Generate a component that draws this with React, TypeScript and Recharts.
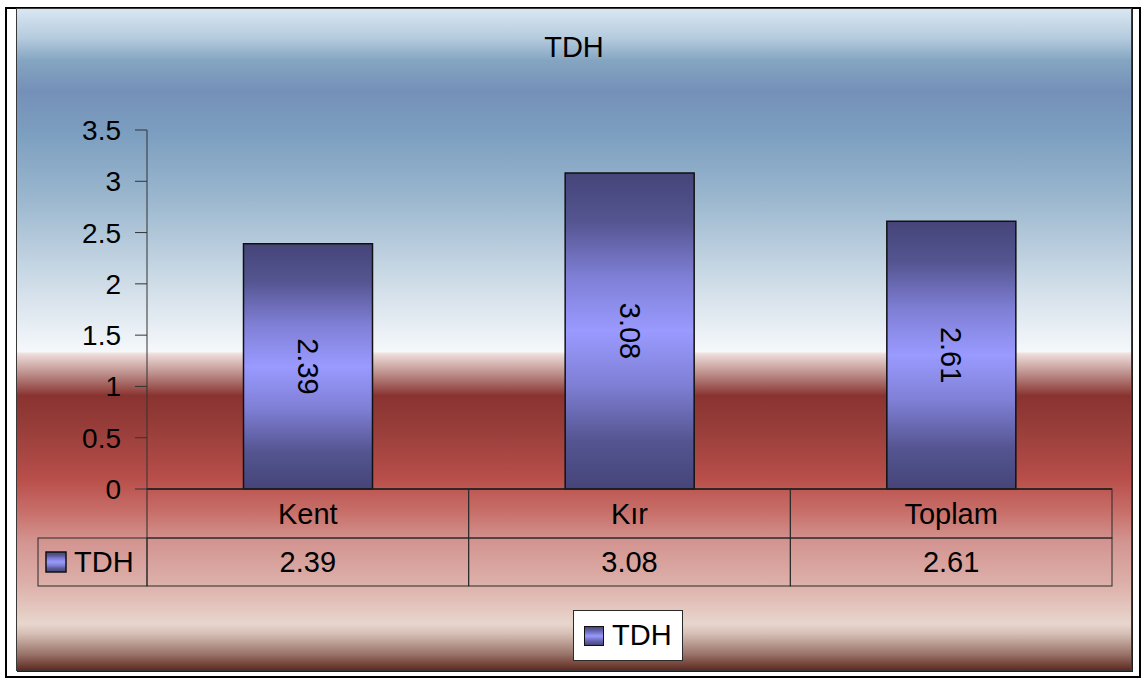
import { BarChart, Bar, XAxis, YAxis, Legend, LabelList } from 'recharts'

// ============================================
// Data
// ============================================

const categories = ['Kent', 'Kır', 'Toplam']
const tdhValues = [2.39, 3.08, 2.61]
const yTicks = [0, 0.5, 1, 1.5, 2, 2.5, 3, 3.5]
const seriesName = 'TDH'
const chartTitle = 'TDH'

const chartData = categories.map((name, i) => ({ name, value: tdhValues[i] }))

// ============================================
// Layout
// ============================================

const W = 1144
const H = 679
const PLOT_LEFT = 147
const PLOT_RIGHT = 1112
const BAND = (PLOT_RIGHT - PLOT_LEFT) / categories.length
const ROW1 = 49
const ROW2 = 48
const LABEL_COL_LEFT = 38
const FONT = '"Liberation Sans", Arial, sans-serif'
const FS = 29
const LINE = '#2a2a2a'

const panelGradient =
  'linear-gradient(to bottom, #d9e7f2 0%, #b4cadd 4.5%, #84a5c2 7.8%, #7590b8 12.4%, #7b9dbf 18.4%, #9cb8cf 29%, #cddbe7 41%, #f5f8fb 51.8%, #eedcda 52.2%, #b78682 55.5%, #893330 58.5%, #9a3f3b 64%, #b84e4a 71%, #c86e69 76%, #d39490 80.5%, #ddb0aa 87%, #e8d6cd 93%, #d6bfb6 94.5%, #9c766c 97.5%, #5e2a20 100%)'

const swatchGradient =
  'linear-gradient(to bottom, #46467a 0%, #6a6ab8 25%, #9999ff 50%, #6a6ab8 75%, #46467a 100%)'

// ============================================
// Pieces
// ============================================

function Swatch({ size }: { size: number }) {
  return (
    <div
      style={{
        width: size,
        height: size,
        boxSizing: 'border-box',
        border: '1.5px solid #111',
        background: swatchGradient,
      }}
    />
  )
}

function TableTick(props: any) {
  const { x, y, payload, index } = props
  const left = x - BAND / 2
  const value = tdhValues[payload.index ?? index]
  return (
    <g>
      <rect x={left} y={y} width={BAND} height={ROW1} fill="none" stroke={LINE} strokeWidth={1} />
      <rect x={left} y={y + ROW1} width={BAND} height={ROW2} fill="none" stroke={LINE} strokeWidth={1} />
      <text x={x} y={y + ROW1 / 2} textAnchor="middle" dominantBaseline="central" fontSize={FS} fill="#000">
        {payload.value}
      </text>
      <text x={x} y={y + ROW1 + ROW2 / 2} textAnchor="middle" dominantBaseline="central" fontSize={FS} fill="#000">
        {value.toFixed(2)}
      </text>
      {index === 0 && (
        <g>
          <rect
            x={LABEL_COL_LEFT}
            y={y + ROW1}
            width={left - LABEL_COL_LEFT}
            height={ROW2}
            fill="none"
            stroke={LINE}
            strokeWidth={1}
          />
          <rect
            x={LABEL_COL_LEFT + 8}
            y={y + ROW1 + 14}
            width={20}
            height={20}
            fill="url(#barFill)"
            stroke="#111"
            strokeWidth={1.5}
          />
          <text x={LABEL_COL_LEFT + 36} y={y + ROW1 + ROW2 / 2} dominantBaseline="central" fontSize={FS} fill="#000">
            {seriesName}
          </text>
        </g>
      )}
    </g>
  )
}

function BarValueLabel(props: any) {
  const { x, y, width, height, value } = props
  const cx = x + width / 2
  const cy = y + height / 2
  return (
    <text
      x={cx}
      y={cy}
      transform={`rotate(90 ${cx} ${cy})`}
      textAnchor="middle"
      dominantBaseline="central"
      fontSize={FS}
      fill="#000"
    >
      {Number(value).toFixed(2)}
    </text>
  )
}

function LegendBox() {
  return (
    <div
      style={{
        width: 110,
        height: 51,
        boxSizing: 'border-box',
        border: `1px solid ${LINE}`,
        background: '#fff',
        display: 'flex',
        alignItems: 'center',
        paddingLeft: 10,
        gap: 8,
        fontFamily: FONT,
        fontSize: FS,
        color: '#000',
      }}
    >
      <Swatch size={20} />
      <span>{seriesName}</span>
    </div>
  )
}

// ============================================
// Main Component
// ============================================

export default function App() {
  return (
    <div style={{ position: 'absolute', left: 0, top: 0, width: W, height: H, fontFamily: FONT, background: '#fff' }}>
      {/* outer frame */}
      <div
        style={{
          position: 'absolute',
          left: 5,
          top: 7,
          width: 1136,
          height: 671,
          boxSizing: 'border-box',
          border: '2px solid #000',
        }}
      />
      {/* gradient panel */}
      <div
        style={{
          position: 'absolute',
          left: 16,
          top: 8,
          width: 1116,
          height: 663,
          boxSizing: 'border-box',
          border: '1px solid #3a3a3a',
          boxShadow: '1px 1px 0 #222',
          background: panelGradient,
        }}
      />
      {/* title */}
      <div
        style={{
          position: 'absolute',
          left: 16,
          width: 1116,
          top: 30,
          textAlign: 'center',
          fontSize: FS,
          lineHeight: '34px',
          color: '#000',
        }}
      >
        {chartTitle}
      </div>
      <div style={{ position: 'absolute', left: 0, top: 0 }}>
        <BarChart
          width={W}
          height={H}
          data={chartData}
          margin={{ top: 130, right: W - PLOT_RIGHT, left: PLOT_LEFT - 100, bottom: H - 586 }}
          barCategoryGap="30%"
        >
          <defs>
            <linearGradient id="barFill" x1="0" y1="0" x2="0" y2="1">
              <stop offset="0%" stopColor="#45457a" />
              <stop offset="15%" stopColor="#545490" />
              <stop offset="33%" stopColor="#7f7fd6" />
              <stop offset="50%" stopColor="#9a9aff" />
              <stop offset="67%" stopColor="#7f7fd6" />
              <stop offset="85%" stopColor="#545490" />
              <stop offset="100%" stopColor="#45457a" />
            </linearGradient>
          </defs>
          <YAxis
            width={100}
            domain={[0, 3.5]}
            ticks={yTicks}
            interval={0}
            tickSize={12}
            tickMargin={14}
            tick={{ fill: '#000', fontSize: 28 }}
            axisLine={{ stroke: '#333', strokeWidth: 1 }}
            tickLine={{ stroke: '#333', strokeWidth: 1 }}
          />
          <XAxis
            dataKey="name"
            height={ROW1 + ROW2}
            tickLine={false}
            tickSize={0}
            tickMargin={0}
            interval={0}
            axisLine={{ stroke: '#111', strokeWidth: 1.5 }}
            tick={<TableTick />}
          />
          <Legend
            verticalAlign="middle"
            content={<LegendBox />}
            wrapperStyle={{ position: 'absolute', left: 573, top: 610, width: 110, height: 51 }}
          />
          <Bar
            dataKey="value"
            name={seriesName}
            fill="url(#barFill)"
            stroke="#111"
            strokeWidth={1.5}
            isAnimationActive={false}
          >
            <LabelList dataKey="value" content={<BarValueLabel />} />
          </Bar>
        </BarChart>
      </div>
    </div>
  )
}
